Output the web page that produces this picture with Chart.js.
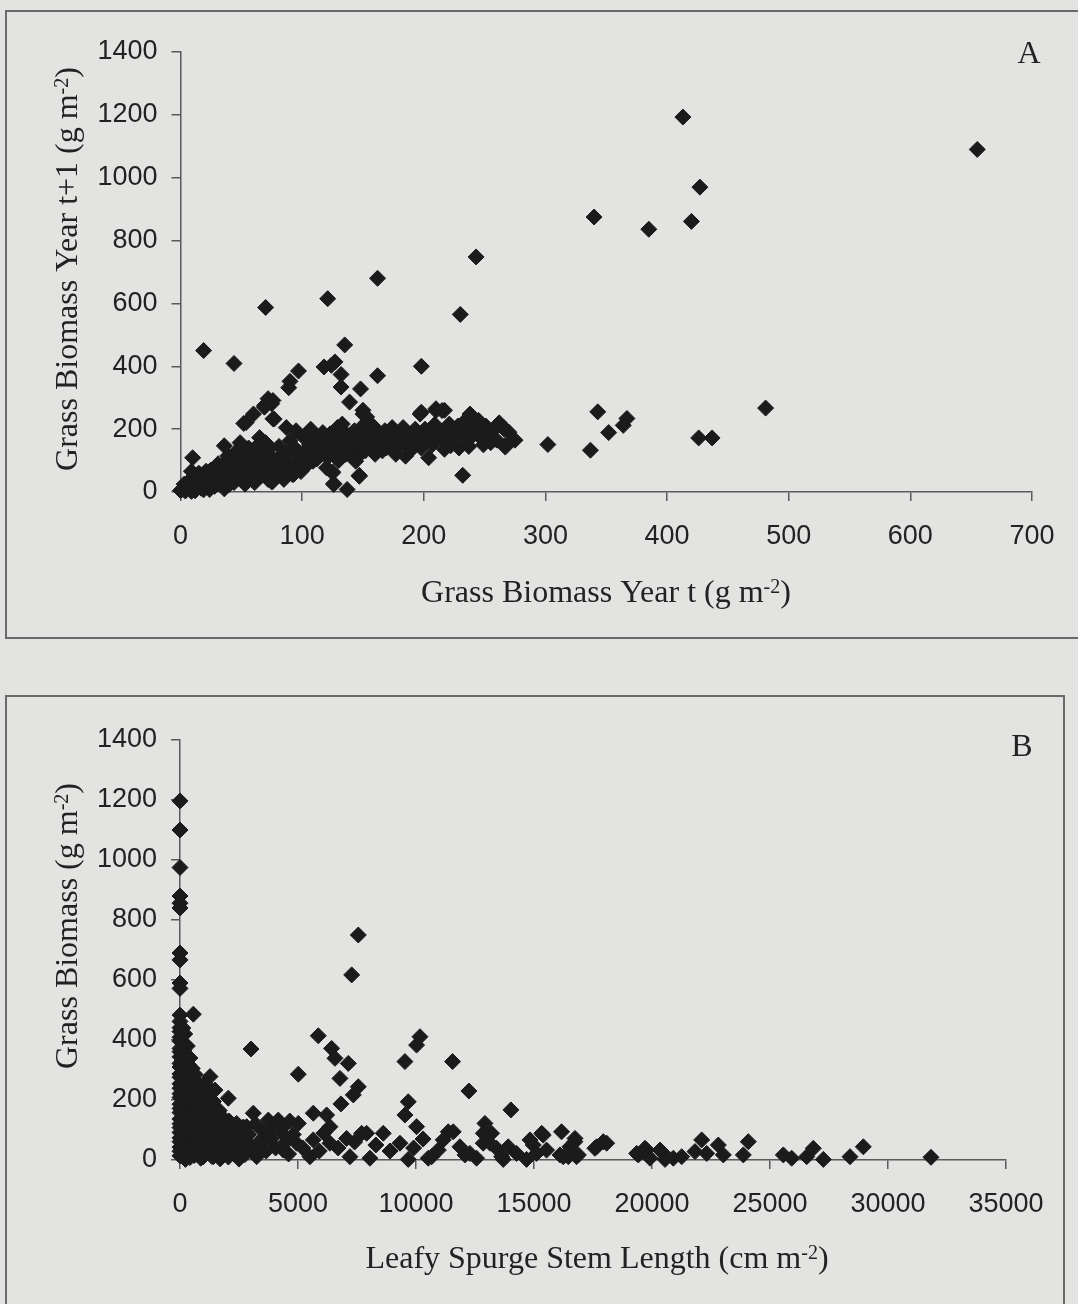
<!DOCTYPE html>
<html>
<head>
<meta charset="utf-8">
<script src="https://cdn.jsdelivr.net/npm/chart.js@4.4.0/dist/chart.umd.min.js"></script>
<style>
  body { margin: 0; background: #e3e3e2; width: 1078px; height: 1304px; overflow: hidden; position: relative; }
  .frame { position: absolute; border: 2px solid #6a6a6a; box-sizing: border-box; }
  canvas { position: absolute; left: 0; }
</style>
</head>
<body>
<div class="frame" style="left:5px;top:10px;width:1090px;height:629px"></div>
<div class="frame" style="left:5px;top:695px;width:1060px;height:640px"></div>
<canvas id="chartA" width="1078" height="640" style="top:0"></canvas>
<canvas id="chartB" width="1078" height="624" style="top:680px"></canvas>
<script>
// tick labels
const ticksAX = [0, 100, 200, 300, 400, 500, 600, 700];
const ticksBX = [0, 5000, 10000, 15000, 20000, 25000, 30000, 35000];
const ticksY = [0, 200, 400, 600, 800, 1000, 1200, 1400];

// panel A : grass biomass year t vs year t+1 (g m-2)
const biomassSparseA = [
  [413,1193],[655,1090],[427,970],[340,875],[385,836],[420,861],[343,255],[367,234],[364,212],
  [352,189],[302,151],[337,133],[426,172],[437,172],[481,267],
  [19,450],[44,409],[70,587],[121,615],[162,680],[243,748],[230,565],[135,468],[97,385],
  [118,398],[127,414],[132,374],[162,370],[198,400],[124,403],[148,328],[139,286],[132,334],
  [89,332],[90,352],[72,297],[75,281],[69,270],[60,248],[52,218],[76,233],[76,291],[77,232],
  [69,275],[54,221],[150,260],[153,239],[198,254],[210,265],[217,260],[239,244],[245,228],
  [266,204],[267,149],[232,53],[137,8],[126,27],[125,64],[147,53],[93,56],[75,32]
];
const biomassBandA = [
  [1,7],[5,24],[9,2],[13,18],[19,7],[23,29],[10,109],[9,66],[16,56],[21,66],[27,45],[29,77],
  [34,61],[36,147],[38,98],[40,24],[43,66],[47,88],[49,157],[51,120],[54,61],[57,98],[60,45],
  [62,130],[65,88],[68,109],[70,66],[73,98],[76,34],[77,77],[65,173],[70,157],[73,141],
  [87,205],[90,163],[95,195],[92,56],[98,98],[103,131],[107,200],[109,98],[111,168],[116,120],
  [117,189],[120,77],[124,163],[125,61],[126,24],[129,205],[132,157],[133,216],[136,120],
  [139,152],[143,195],[144,98],[147,50],[150,211],[150,248],[152,131],[155,173],[158,211],
  [161,152],[163,189],[166,131],[170,163],[174,205],[178,141],[182,189],[185,114],[189,157],
  [193,200],[197,248],[200,163],[204,109],[206,200],[210,259],[214,184],[215,259],[217,136],
  [221,216],[222,147],[226,189],[234,227],[236,163],[238,248],[241,200],[245,221],[248,168],
  [252,195],[255,157],[266,200],[267,143]
];
const biomassDenseA = [
  [0,5],[2,12],[3,25],[4,3],[6,15],[7,35],[8,8],[10,20],[11,45],[12,4],[14,30],[15,60],[17,12],
  [18,40],[20,22],[22,50],[24,8],[25,70],[26,35],[28,18],[30,55],[31,90],[33,28],[35,42],
  [36,10],[38,75],[39,115],[41,50],[42,95],[44,30],[46,130],[48,70],[50,45],[52,100],[53,25],
  [55,80],[56,140],[58,60],[59,110],[61,30],[63,85],[64,150],[66,50],[67,120],[71,90],[72,40],
  [74,115],[78,60],[80,105],[81,145],[83,75],[85,40],[86,125],[88,95],[91,75],[94,140],
  [96,115],[99,65],[101,175],[102,120],[105,90],[106,150],[108,180],[110,135],[112,105],
  [114,160],[119,145],[121,110],[123,185],[127,135],[130,100],[131,170],[135,190],[138,135],
  [141,175],[142,110],[145,150],[146,185],[149,125],[152,170],[156,195],[157,145],[160,120],
  [162,180],[164,160],[168,195],[169,140],[172,180],[176,155],[177,120],[180,170],[183,205],
  [185,150],[187,180],[190,135],[192,165],[195,185],[198,140],[201,200],[203,175],[207,150],
  [209,215],[211,170],[213,195],[218,160],[220,200],[224,175],[228,210],[229,140],[231,185],
  [235,200],[237,145],[240,180],[243,215],[246,190],[249,150],[251,210],[253,180],[258,200],
  [260,165],[262,220],[270,190],[275,165]
];

// panel B : leafy spurge stem length (cm m-2) vs grass biomass (g m-2)
const spurgeZeroB = [
  [0,1197],[0,1100],[0,975],[0,880],[0,856],[0,840],[0,690],[0,667],[0,590],[0,572],[0,483],
  [0,462],[0,441],[0,428],[0,409],[0,396],[0,372],[0,361],[0,344],[0,322],[0,310],[0,287],
  [0,276],[0,254],[0,239],[0,221],[0,208],[0,186],[0,172],[0,158],[0,137],[0,121],[0,108],
  [0,92],[0,74],[0,61],[0,43],[0,29],[0,14]
];
const spurgeDenseB = [
  [120,440],[200,420],[80,395],[310,380],[150,365],[260,350],[420,340],[90,330],[350,318],
  [520,305],[200,298],[640,285],[430,270],[110,262],[760,258],[300,248],[560,240],[880,232],
  [180,225],[990,220],[420,212],[700,205],[1150,198],[250,192],[580,186],[1300,180],[850,175],
  [130,168],[1020,162],[460,158],[1450,150],[720,146],[1620,140],[300,138],[940,132],[1200,128],
  [560,122],[1800,118],[1380,112],[80,108],[780,104],[2000,100],[1080,96],[400,92],[1560,88],
  [2200,84],[650,80],[1280,76],[1900,72],[220,68],[2400,64],[900,60],[1700,56],[500,52],
  [2100,48],[1150,45],[2600,42],[340,38],[1480,35],[780,32],[2300,28],[1950,25],[160,22],
  [1050,20],[2750,18],[600,15],[1350,12],[2050,10],[420,8],[880,6],[1700,4],[2500,3],[230,2],
  [60,288],[240,318],[380,270],[470,232],[620,210],[690,168],[820,140],[950,190],[1100,150],
  [1240,230],[1330,142],[1420,195],[1530,118],[1660,165],[1750,98],[1840,140],[2080,130],
  [2160,62],[2290,110],[2440,92],[2560,70],[2680,110],[2820,58],[2920,85],[3050,45],[3200,120],
  [3380,62],[3520,96],[3650,30],[3850,70],[4050,40],[4250,95],[4480,60],[4650,130]
];
const spurgeSpreadB = [
  [565,486],[3008,370],[5860,414],[6425,372],[6566,339],[7131,322],[6778,272],[5013,286],
  [7555,244],[7343,217],[6820,187],[9531,328],[10167,411],[10025,383],[11550,328],[12242,230],
  [14021,167],[9672,194],[9531,150],[5648,156],[6213,150],[12920,122],[16167,94],[15390,83],
  [16732,61],[17580,39],[11578,94],[11155,67],[10520,6],[9672,2],[9319,56],[10025,111],
  [8613,89],[7907,89],[7696,89],[7202,11],[8048,6],[7060,72],[6354,111],[6354,56],[5507,11],
  [5648,67],[4942,56],[5013,122],[4377,111],[4377,33],[3742,133],[4165,133],[3601,78],
  [3248,11],[3106,156],[2824,111],[2400,122],[2047,206],[1271,278],[1059,256],[1483,233],
  [988,11],[1412,11],[1694,72],[2259,33],[11861,44],[12284,22],[12567,6],[12849,56],
  [13414,39],[13696,2],[13908,44],[14261,22],[14685,2],[14967,50],[15108,22],[15532,33],
  [16238,11],[16520,44],[16802,11],[13202,89],[11370,94],[10946,33],[10664,11],[12076,17],
  [12853,89],[13136,56],[13630,11],[14830,67],[15325,89],[16102,17],[16879,17],[17655,44],
  [18079,56],[19420,17],[19774,33],[20480,22],[16737,72],[16455,11],[17937,61],[19350,22],
  [19703,39],[19915,6],[20339,33],[20551,2],[20904,6],[21257,11],[21822,28],[22105,67],
  [22317,22],[22810,50],[23022,17],[23870,17],[24081,61],[25565,17],[25918,6],[26554,11],
  [26836,39],[27260,2],[28390,11],[28954,44],[31822,9],[7555,750],[7275,617],
  [2600,95],[3400,40],[3900,100],[4600,20],[4800,85],[5200,40],[5900,30],[6100,90],[6700,40],
  [7400,60],[8300,50],[8900,30],[9900,40],[10300,70]
];

const INK = '#1b1b1b';
const SERIF = '"Liberation Serif", "Times New Roman", serif';
const SANS = '"Liberation Sans", Arial, sans-serif';

// text with a superscript part, e.g. g m-2
function drawRich(ctx, parts, x, y, rot) {
  ctx.save();
  ctx.translate(x, y);
  ctx.rotate(rot || 0);
  ctx.fillStyle = '#222';
  ctx.textBaseline = 'alphabetic';
  ctx.textAlign = 'left';
  let total = 0;
  parts.forEach(p => {
    ctx.font = p[1] ? '20px ' + SERIF : '32px ' + SERIF;
    total += ctx.measureText(p[0]).width;
  });
  let cx = -total / 2;
  parts.forEach(p => {
    ctx.font = p[1] ? '20px ' + SERIF : '32px ' + SERIF;
    ctx.fillText(p[0], cx, p[1] ? -9 : 0);
    cx += ctx.measureText(p[0]).width;
  });
  ctx.restore();
}

function textPlugin(items) {
  return {
    id: 'panelText',
    afterDraw(chart) {
      items.forEach(it => drawRich(chart.ctx, it.parts, it.x, it.y, it.rot));
    }
  };
}

function axis(min, max, ticks, fixed, isX) {
  return {
    type: 'linear', min: min, max: max,
    border: { color: '#5a5a5a', width: 1.5 },
    grid: { drawOnChartArea: false, color: '#5a5a5a', lineWidth: 1.5, tickLength: 9 },
    ticks: {
      color: '#222', font: { family: SANS, size: 27 }, padding: isX ? 19 : 14,
      callback: v => String(v)
    },
    afterBuildTicks: s => { s.ticks = ticks.map(v => ({ value: v })); },
    afterFit: s => { if (isX) s.height = fixed; else s.width = fixed; }
  };
}

function scatterSet(pairs) {
  return {
    data: pairs.map(p => ({ x: p[0], y: p[1] })),
    pointStyle: 'rectRot',
    pointRadius: 8,
    pointBackgroundColor: INK,
    pointBorderColor: INK,
    pointBorderWidth: 1,
    showLine: false,
    clip: false
  };
}

new Chart(document.getElementById('chartA'), {
  type: 'scatter',
  data: { datasets: [scatterSet(biomassBandA), scatterSet(biomassDenseA), scatterSet(biomassSparseA)] },
  options: {
    responsive: false, animation: false,
    layout: { padding: { left: 0, top: 52, right: 46, bottom: 0 } },
    plugins: { legend: { display: false }, tooltip: { enabled: false } },
    scales: {
      x: axis(0, 700, ticksAX, 148, true),
      y: axis(0, 1400, ticksY, 180.5, false)
    }
  },
  plugins: [textPlugin([
    { parts: [['Grass Biomass Year t (g m', 0], ['-2', 1], [')', 0]], x: 606, y: 602 },
    { parts: [['Grass Biomass Year t+1 (g m', 0], ['-2', 1], [')', 0]], x: 77, y: 269, rot: -Math.PI / 2 },
    { parts: [['A', 0]], x: 1029, y: 63 }
  ])]
});

new Chart(document.getElementById('chartB'), {
  type: 'scatter',
  data: { datasets: [scatterSet(spurgeZeroB), scatterSet(spurgeDenseB), scatterSet(spurgeSpreadB)] },
  options: {
    responsive: false, animation: false,
    layout: { padding: { left: 0, top: 60, right: 72, bottom: 0 } },
    plugins: { legend: { display: false }, tooltip: { enabled: false } },
    scales: {
      x: axis(0, 35000, ticksBX, 144, true),
      y: axis(0, 1400, ticksY, 180, false)
    }
  },
  plugins: [textPlugin([
    { parts: [['Leafy Spurge Stem Length (cm m', 0], ['-2', 1], [')', 0]], x: 597, y: 588 },
    { parts: [['Grass Biomass (g m', 0], ['-2', 1], [')', 0]], x: 77, y: 246, rot: -Math.PI / 2 },
    { parts: [['B', 0]], x: 1022, y: 76 }
  ])]
});
</script>
</body>
</html>
